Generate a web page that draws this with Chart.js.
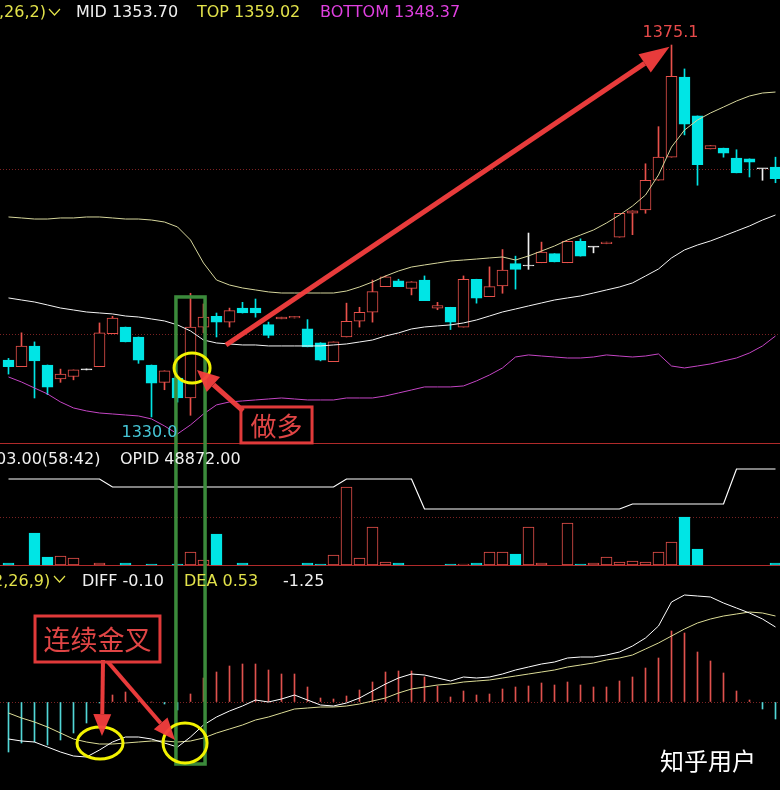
<!DOCTYPE html>
<html>
<head>
<meta charset="utf-8">
<script src="https://cdn.jsdelivr.net/npm/chart.js@4.4.1/dist/chart.umd.min.js"></script>
<style>
  html, body { margin: 0; padding: 0; background: #000; }
  #wrap { width: 780px; height: 790px; }
</style>
</head>
<body>
<div id="wrap"><canvas id="kline" width="780" height="790"></canvas></div>
<script>
// candle index 0..59 (one per bar)
const candles = Array.from({ length: 60 }, (_, i) => i);

const opens = [1336.9, 1336.1, 1338.6, 1336.3, 1334.6, 1334.9, 1335.7, 1336.1, 1340.1, 1340.9,
  1339.7, 1336.3, 1334.2, 1334.7, 1332.3, 1340.9, 1342.2, 1341.5, 1343.2, 1343.2,
  1341.2, 1341.9, 1342.0, 1340.7, 1339.0, 1336.7, 1339.7, 1341.6, 1342.7, 1345.8,
  1346.5, 1345.6, 1346.6, 1343.2, 1343.3, 1340.9, 1346.7, 1344.6, 1345.9, 1348.6,
  1348.3, 1348.7, 1349.8, 1348.7, 1351.3, 1350.6, 1351.0, 1351.8, 1354.7, 1355.1,
  1358.7, 1361.5, 1371.2, 1366.5, 1362.5, 1362.6, 1361.4, 1361.3, 1360.1, 1360.3];
const highs = [1337.1, 1340.2, 1339.1, 1336.3, 1335.8, 1335.7, 1335.7, 1341.4, 1342.2, 1340.9,
  1339.7, 1336.3, 1335.6, 1334.7, 1345.0, 1343.7, 1342.6, 1343.2, 1343.9, 1344.3,
  1341.5, 1342.1, 1342.2, 1341.8, 1339.0, 1339.1, 1343.8, 1343.3, 1346.6, 1347.1,
  1346.7, 1346.4, 1347.1, 1343.9, 1343.3, 1347.1, 1346.7, 1348.2, 1350.3, 1349.5,
  1352.3, 1351.2, 1349.8, 1351.3, 1351.6, 1350.6, 1351.2, 1354.7, 1355.0, 1360.7,
  1365.2, 1375.1, 1372.2, 1366.5, 1362.9, 1362.6, 1362.4, 1361.3, 1360.1, 1361.5];
const lows = [1335.2, 1336.1, 1332.3, 1332.7, 1334.2, 1334.5, 1335.7, 1336.1, 1340.1, 1339.1,
  1336.5, 1330.0, 1333.3, 1331.8, 1330.2, 1340.2, 1339.7, 1340.9, 1342.6, 1342.1,
  1339.6, 1341.9, 1342.0, 1338.5, 1336.8, 1336.7, 1339.7, 1340.9, 1341.5, 1345.8,
  1345.8, 1344.8, 1344.1, 1343.0, 1340.6, 1340.9, 1343.8, 1344.6, 1345.0, 1345.5,
  1347.9, 1348.7, 1348.8, 1348.7, 1349.5, 1349.9, 1351.0, 1351.8, 1352.1, 1354.7,
  1358.7, 1361.5, 1364.2, 1358.1, 1362.5, 1361.5, 1359.6, 1359.1, 1358.7, 1358.4];
const closes = [1336.1, 1338.6, 1336.8, 1333.6, 1335.2, 1335.7, 1335.7, 1340.2, 1342.0, 1339.1,
  1336.9, 1334.1, 1335.6, 1332.3, 1340.9, 1342.1, 1341.5, 1342.9, 1342.6, 1342.6,
  1339.9, 1342.1, 1342.2, 1338.5, 1336.9, 1339.1, 1341.6, 1342.7, 1345.2, 1347.0,
  1345.8, 1346.4, 1344.1, 1343.5, 1341.5, 1346.7, 1344.4, 1345.8, 1347.8, 1347.9,
  1348.3, 1350.0, 1348.8, 1351.3, 1349.5, 1350.6, 1351.2, 1354.7, 1355.0, 1358.7,
  1361.5, 1371.3, 1365.5, 1360.6, 1362.9, 1362.0, 1359.6, 1360.9, 1360.1, 1358.9];

// Bollinger bands
const bollTop = [1354.25, 1354.13, 1354.00, 1354.00, 1354.13, 1354.13, 1354.25, 1354.25, 1354.13, 1354.00,
  1354.00, 1353.88, 1353.64, 1353.04, 1351.46, 1348.67, 1346.61, 1346.00, 1345.64, 1345.40,
  1345.16, 1345.03, 1345.03, 1345.03, 1345.03, 1345.03, 1345.27, 1345.76, 1346.37, 1347.09,
  1347.70, 1348.18, 1348.43, 1348.67, 1348.91, 1349.03, 1349.15, 1349.28, 1349.40, 1349.03,
  1349.52, 1350.12, 1350.73, 1351.46, 1352.06, 1352.67, 1353.52, 1354.49, 1355.58, 1356.91,
  1359.34, 1362.73, 1364.79, 1366.01, 1366.86, 1367.58, 1368.31, 1368.92, 1369.28, 1369.40];
const bollMid = [1344.43, 1344.18, 1343.94, 1343.58, 1343.21, 1342.97, 1342.73, 1342.61, 1342.49, 1342.24,
  1342.12, 1341.88, 1341.64, 1341.16, 1340.43, 1339.33, 1338.97, 1338.85, 1338.73, 1338.73,
  1338.61, 1338.61, 1338.61, 1338.61, 1338.61, 1338.73, 1338.85, 1339.09, 1339.33, 1339.82,
  1340.19, 1340.67, 1340.91, 1341.04, 1341.16, 1341.40, 1341.76, 1342.24, 1342.73, 1343.09,
  1343.46, 1343.82, 1344.18, 1344.43, 1344.67, 1345.03, 1345.40, 1345.76, 1346.25, 1347.09,
  1347.94, 1349.28, 1350.25, 1350.85, 1351.34, 1351.94, 1352.55, 1353.16, 1353.88, 1354.49];
const bollBottom = [1334.85, 1334.24, 1333.51, 1332.79, 1331.82, 1331.09, 1330.73, 1330.48, 1330.36, 1330.24,
  1330.12, 1329.76, 1328.91, 1327.94, 1329.03, 1330.36, 1331.46, 1331.82, 1331.94, 1332.06,
  1332.18, 1332.30, 1332.18, 1332.06, 1332.06, 1332.06, 1332.30, 1332.30, 1332.30, 1332.55,
  1332.91, 1333.27, 1333.64, 1333.64, 1333.64, 1333.76, 1334.37, 1335.09, 1335.94, 1337.27,
  1337.52, 1337.39, 1337.27, 1337.15, 1337.15, 1337.27, 1337.52, 1337.39, 1337.27, 1337.39,
  1337.64, 1336.18, 1335.94, 1336.18, 1336.43, 1336.79, 1337.15, 1337.76, 1338.61, 1339.82];

// volume (lots) and open interest
const volumes = [100, 0, 1600, 400, 450, 350, 0, 100, 0, 100,
  0, 50, 0, 50, 650, 250, 1550, 0, 100, 0,
  0, 0, 0, 100, 50, 500, 3900, 350, 1900, 150,
  100, 0, 0, 0, 50, 50, 100, 650, 650, 550,
  1900, 100, 0, 2100, 50, 100, 400, 150, 200, 150,
  650, 1150, 2400, 800, 0, 0, 0, 0, 0, 100];
const openInterest = [49032, 49032, 49032, 49032, 49032, 49032, 49032, 49032, 48872, 48872,
  48872, 48872, 48872, 48872, 48872, 48872, 48872, 48872, 48872, 48872,
  48872, 48872, 48872, 48872, 48872, 48872, 49032, 49032, 49032, 49032,
  49032, 49032, 48432, 48432, 48432, 48432, 48432, 48432, 48432, 48432,
  48432, 48432, 48432, 48432, 48432, 48432, 48432, 48432, 48532, 48532,
  48532, 48532, 48532, 48532, 48532, 48532, 49232, 49232, 49232, 49232];

// MACD(12,26,9)
const diffLine = [-1.85, -1.95, -2.00, -2.25, -2.50, -2.70, -2.75, -2.40, -2.00, -1.75,
  -1.75, -1.85, -2.05, -2.25, -1.75, -1.15, -0.75, -0.45, -0.20, 0.10,
  0.00, 0.15, 0.35, 0.10, -0.15, -0.20, -0.05, 0.20, 0.55, 0.90,
  1.20, 1.40, 1.35, 1.20, 1.05, 1.25, 1.20, 1.25, 1.40, 1.60,
  1.75, 1.90, 2.00, 2.20, 2.25, 2.25, 2.35, 2.50, 2.80, 3.20,
  3.80, 5.00, 5.35, 5.30, 5.25, 4.95, 4.70, 4.45, 4.15, 3.75];
const deaLine = [-0.55, -0.80, -1.00, -1.25, -1.55, -1.85, -2.00, -2.10, -2.10, -2.05,
  -2.00, -1.95, -1.95, -2.00, -1.95, -1.80, -1.55, -1.35, -1.15, -0.90,
  -0.75, -0.55, -0.35, -0.30, -0.25, -0.25, -0.20, -0.10, 0.05, 0.20,
  0.45, 0.65, 0.75, 0.85, 0.90, 1.00, 1.05, 1.10, 1.20, 1.30,
  1.40, 1.50, 1.60, 1.75, 1.85, 1.95, 2.10, 2.20, 2.35, 2.65,
  2.95, 3.30, 3.65, 3.95, 4.15, 4.30, 4.40, 4.50, 4.45, 4.30];
const macdBars = [-2.50, -2.05, -2.00, -2.15, -1.90, -1.55, -1.05, -0.05, 0.35, 0.50,
  0.05, 0.00, -0.10, -0.40, 0.40, 1.20, 1.50, 1.80, 1.90, 1.90,
  1.60, 1.40, 1.40, 0.75, 0.20, 0.15, 0.30, 0.60, 1.00, 1.50,
  1.55, 1.55, 1.25, 0.80, 0.25, 0.55, 0.35, 0.40, 0.65, 0.75,
  0.80, 0.95, 0.85, 1.00, 0.85, 0.75, 0.75, 1.05, 1.25, 1.70,
  2.20, 3.55, 3.45, 2.50, 2.05, 1.45, 0.55, 0.10, -0.35, -0.85];

// reference grid lines per pane
const priceGrid = [1340, 1360];
const volGrid = [2400];
const macdGrid = [0];

const RED = '#e8514b';
const CYAN = '#00e5e5';
const WHITE = '#f0f0f0';
const YELLOW = '#e2e24a';

const dir = closes.map((c, i) => c > opens[i] ? 1 : c < opens[i] ? -1 : 0);
const candleColor = dir.map(d => d > 0 ? RED : d < 0 ? CYAN : WHITE);
const bodyFill = dir.map(d => d > 0 ? '#000' : d < 0 ? CYAN : WHITE);
const volBorder = dir.map(d => d < 0 ? CYAN : RED);
const volFill = dir.map(d => d < 0 ? CYAN : '#000');

function xy(arr) {
    return arr.map((v, i) => ({ x: candles[i], y: v }));
}

function gridAxis(weight, min, max, lines) {
    return {
        position: 'right', stack: 'panes', stackWeight: weight, min: min, max: max,
        ticks: { display: false },
        grid: { color: '#7a2222', drawTicks: false },
        border: { display: false, dash: [1, 2] },
        afterBuildTicks: scale => { scale.ticks = lines.map(v => ({ value: v })); }
    };
}

function arrow(ctx, x1, y1, x2, y2, w, hl, hw, color) {
    const a = Math.atan2(y2 - y1, x2 - x1);
    const bx = x2 - hl * Math.cos(a), by = y2 - hl * Math.sin(a);
    ctx.strokeStyle = color;
    ctx.lineWidth = w;
    ctx.beginPath();
    ctx.moveTo(x1, y1);
    ctx.lineTo(bx, by);
    ctx.stroke();
    ctx.fillStyle = color;
    ctx.beginPath();
    ctx.moveTo(x2, y2);
    ctx.lineTo(bx + hw * Math.sin(a), by - hw * Math.cos(a));
    ctx.lineTo(bx - hw * Math.sin(a), by + hw * Math.cos(a));
    ctx.closePath();
    ctx.fill();
}

function chevron(ctx, x, y, color) {
    ctx.strokeStyle = color;
    ctx.lineWidth = 1.2;
    ctx.beginPath();
    ctx.moveTo(x, y);
    ctx.lineTo(x + 5.5, y + 6);
    ctx.lineTo(x + 11, y);
    ctx.stroke();
}

// pane borders, drawn under the marks
const paneLines = {
    id: 'paneLines',
    beforeDatasetsDraw(chart) {
        const ctx = chart.ctx;
        ctx.save();
        ctx.strokeStyle = '#b02a2a';
        ctx.lineWidth = 1;
        [chart.scales.yV.top, chart.scales.yM.top].forEach(t => {
            ctx.beginPath();
            ctx.moveTo(0, t - 0.5);
            ctx.lineTo(chart.width, t - 0.5);
            ctx.stroke();
        });
        ctx.restore();
    }
};

// notes and headers
const notes = {
    id: 'notes',
    afterDatasetsDraw(chart) {
        const ctx = chart.ctx;
        const sx = chart.scales.x;
        const at = (k, v, ax) => [sx.getPixelForValue(k), chart.scales[ax].getPixelForValue(v)];
        ctx.save();

        // green frame over the entry bar
        const g1 = at(12.88, 1344.55, 'yP'), g2 = at(15.12, -3.1, 'yM');
        ctx.strokeStyle = '#3b8a3b';
        ctx.lineWidth = 3.5;
        ctx.strokeRect(g1[0], g1[1], g2[0] - g1[0], g2[1] - g1[1]);

        // yellow rings
        ctx.strokeStyle = '#f2f200';
        ctx.lineWidth = 3;
        [[14.12, 1335.94, 'yP', 18, 15], [7.04, -2.05, 'yM', 23, 16], [13.58, -2.05, 'yM', 22, 20]].forEach(e => {
            const c = at(e[0], e[1], e[2]);
            ctx.beginPath();
            ctx.ellipse(c[0], c[1], e[3], e[4], 0, 0, Math.PI * 2);
            ctx.stroke();
        });

        // arrows
        const arrowRed = 'rgba(244,62,62,0.95)';
        let a = at(16.73, 1338.73, 'yP'), b = at(50.85, 1374.9, 'yP');
        arrow(ctx, a[0], a[1], b[0], b[1], 5, 30, 11, arrowRed);
        a = at(18.04, 1330.73, 'yP'); b = at(14.5, 1335.7, 'yP');
        arrow(ctx, a[0], a[1], b[0], b[1], 5, 22, 10, arrowRed);
        a = at(7.27, 2.1, 'yM'); b = at(7.19, -1.7, 'yM');
        arrow(ctx, a[0], a[1], b[0], b[1], 4, 22, 9, arrowRed);
        a = at(7.65, 2.0, 'yM'); b = at(12.81, -1.9, 'yM');
        arrow(ctx, a[0], a[1], b[0], b[1], 4, 22, 9, arrowRed);

        // labelled boxes
        ctx.lineWidth = 3;
        ctx.strokeStyle = '#e03a3a';
        ctx.fillStyle = '#e04545';
        ctx.textAlign = 'center';
        ctx.textBaseline = 'middle';
        [[17.88, 1331.21, 23.35, 1326.85, 'yP', '做多', 26], [2.04, 4.3, 11.65, 2.0, 'yM', '连续金叉', 27]].forEach(r => {
            const p1 = at(r[0], r[1], r[4]), p2 = at(r[2], r[3], r[4]);
            ctx.strokeRect(p1[0], p1[1], p2[0] - p1[0], p2[1] - p1[1]);
            ctx.font = r[6] + 'px "Noto Sans CJK SC"';
            ctx.fillText(r[5], (p1[0] + p2[0]) / 2, (p1[1] + p2[1]) / 2 + 1);
        });

        // high / low marks
        ctx.font = '16px "DejaVu Sans"';
        ctx.textBaseline = 'alphabetic';
        const hi = at(51, highs[51], 'yP');
        ctx.fillStyle = '#e84a4a';
        ctx.fillText(highs[51].toFixed(1), hi[0] - 1, hi[1] - 8);
        const lo = at(11, lows[11], 'yP');
        ctx.fillStyle = '#46c6d6';
        ctx.fillText(lows[11].toFixed(1), lo[0] - 2, lo[1] + 20);
        ctx.restore();
    },
    afterDraw(chart) {
        const ctx = chart.ctx;
        ctx.save();
        ctx.font = '16px "DejaVu Sans"';
        ctx.textAlign = 'left';
        ctx.textBaseline = 'alphabetic';
        const put = (s, x, y, c) => { ctx.fillStyle = c; ctx.fillText(s, x, y); };

        put(',26,2)', -1, 17, YELLOW);
        chevron(ctx, 49, 9, YELLOW);
        put('MID 1353.70', 76, 17, WHITE);
        put('TOP 1359.02', 197, 17, YELLOW);
        put('BOTTOM 1348.37', 320, 17, '#e040e0');

        put('03.00(58:42)', -4, 464, WHITE);
        put('OPID 48872.00', 120, 464, WHITE);

        put('2,26,9)', -7, 586, YELLOW);
        chevron(ctx, 54, 576, YELLOW);
        put('DIFF -0.10', 82, 586, WHITE);
        put('DEA 0.53', 184, 586, YELLOW);
        put('-1.25', 283, 586, WHITE);

        ctx.font = '24px "Noto Sans CJK SC"';
        ctx.textBaseline = 'middle';
        put('知乎用户', 660, 761, '#ffffff');
        ctx.restore();
    }
};

const ctx = document.getElementById('kline').getContext('2d');
const chart = new Chart(ctx, {
    type: 'bar',
    data: {
        datasets: [
            {
                label: 'wick', yAxisID: 'yP', order: 10,
                data: candles.map(i => ({ x: i, y: [lows[i], highs[i]] })),
                backgroundColor: candleColor, borderWidth: 0,
                barThickness: 1, grouped: false, minBarLength: 1
            },
            {
                label: 'body', yAxisID: 'yP', order: 9,
                data: candles.map(i => ({ x: i, y: [opens[i], closes[i]] })),
                backgroundColor: bodyFill, borderColor: candleColor,
                borderWidth: 1, borderSkipped: false,
                barThickness: 11, grouped: false, minBarLength: 1
            },
            { type: 'line', label: 'TOP', yAxisID: 'yP', order: 1, data: xy(bollTop), borderColor: '#d6d69c', borderWidth: 1, pointRadius: 0 },
            { type: 'line', label: 'MID', yAxisID: 'yP', order: 1, data: xy(bollMid), borderColor: '#f4f4f4', borderWidth: 1, pointRadius: 0 },
            { type: 'line', label: 'BOTTOM', yAxisID: 'yP', order: 1, data: xy(bollBottom), borderColor: '#c445c4', borderWidth: 1, pointRadius: 0 },
            {
                label: 'VOL', yAxisID: 'yV', order: 9,
                data: xy(volumes),
                backgroundColor: volFill, borderColor: volBorder,
                borderWidth: 1, borderSkipped: false,
                barThickness: 11, grouped: false
            },
            { type: 'line', label: 'OPID', yAxisID: 'yOI', order: 1, data: xy(openInterest), borderColor: '#ffffff', borderWidth: 1.2, pointRadius: 0 },
            {
                label: 'MACD', yAxisID: 'yM', order: 9,
                data: xy(macdBars),
                backgroundColor: macdBars.map(v => v >= 0 ? '#e0524e' : '#52d6d6'),
                borderWidth: 0, barThickness: 1, grouped: false
            },
            { type: 'line', label: 'DEA', yAxisID: 'yM', order: 2, data: xy(deaLine), borderColor: '#dcdc96', borderWidth: 1, pointRadius: 0 },
            { type: 'line', label: 'DIFF', yAxisID: 'yM', order: 1, data: xy(diffLine), borderColor: '#ffffff', borderWidth: 1, pointRadius: 0 }
        ]
    },
    options: {
        responsive: false,
        devicePixelRatio: 1,
        animation: false,
        events: [],
        layout: { padding: 0 },
        plugins: { legend: { display: false }, tooltip: { enabled: false } },
        scales: {
            x: { type: 'linear', min: -0.6538, max: 59.3462, offset: false, display: false },
            yP: gridAxis(444, 1326.72, 1380.56, priceGrid),
            yV: gridAxis(122, -50, 6050, volGrid),
            yM: gridAxis(224, -4.4, 6.8, macdGrid),
            yOI: { position: 'left', display: false, min: 42812, max: 58612 }
        }
    },
    plugins: [paneLines, notes]
});
</script>
</body>
</html>
